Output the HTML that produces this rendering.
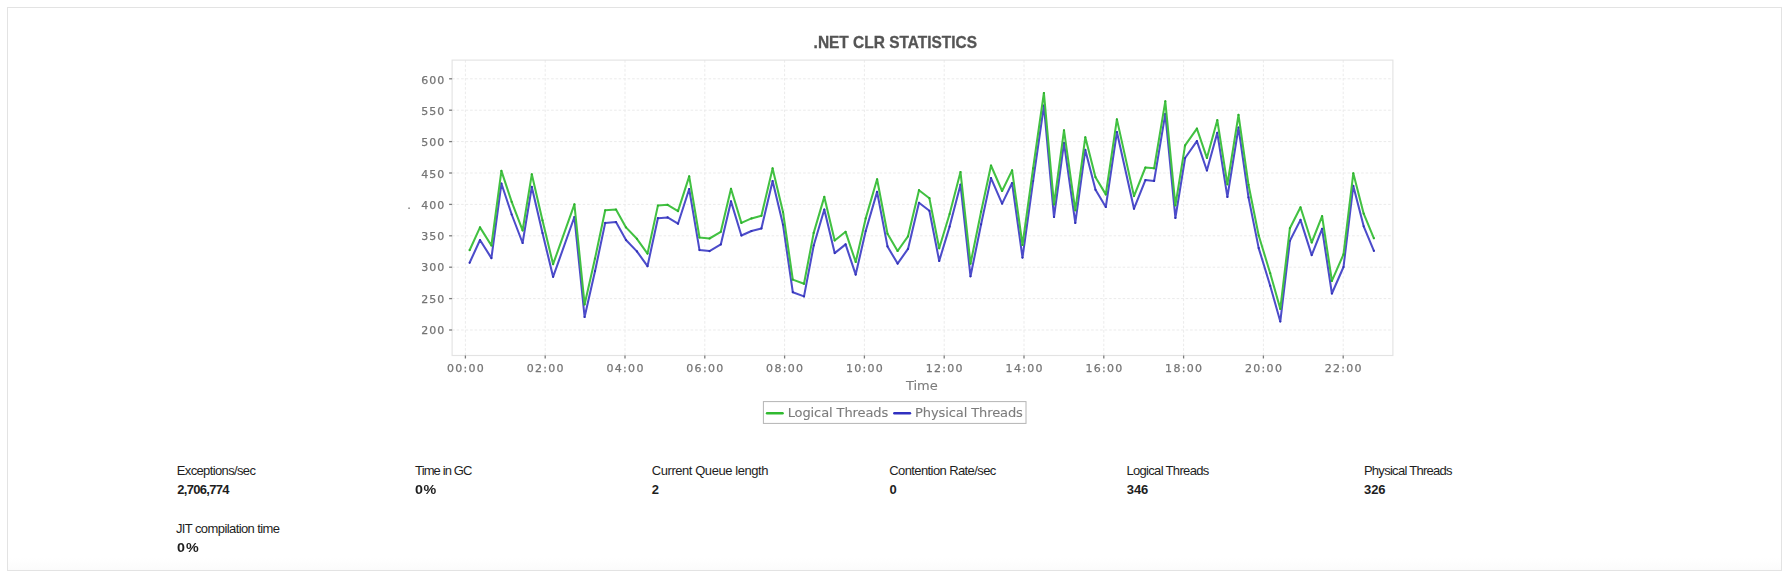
<!DOCTYPE html>
<html lang="en"><head><meta charset="utf-8"><title>.NET CLR Statistics</title>
<style>
html,body{margin:0;padding:0;background:#fff;}
body{width:1789px;height:576px;position:relative;overflow:hidden;font-family:"Liberation Sans","DejaVu Sans",sans-serif;}
#box{position:absolute;left:7px;top:7px;width:1773px;height:562px;border:1px solid #e3e3e3;background:linear-gradient(to bottom,#fff 0,#fff 550px,#fbfbfb 562px);}
#chart{position:absolute;left:0;top:0;filter:blur(0.45px);}
#chart text{font-family:"DejaVu Sans","Liberation Sans",sans-serif;fill:#757575;stroke:#757575;stroke-width:0.25px;}
#chart .tl{font-size:11px;letter-spacing:1px;}
#chart .xl{font-size:11px;letter-spacing:1.3px;}
#chart .al{font-size:13px;letter-spacing:0px;fill:#7c7c7c;stroke:#7c7c7c;stroke-width:0.12px;}
#chart .ll{font-size:13px;letter-spacing:-0.1px;fill:#7c7c7c;stroke:#7c7c7c;stroke-width:0.12px;}
#chart .title{font-family:"Liberation Sans",sans-serif;font-weight:bold;font-size:16px;fill:#555;stroke:#555;stroke-width:0.3px;}
.grid line{stroke:#ebebeb;stroke-width:1;stroke-dasharray:2.6 1.9;}
.pb{fill:none;stroke:#e3e3e3;stroke-width:1.15;}
.ticks line{stroke:#7c7c7c;stroke-width:1.3;}
.s{fill:none;stroke-width:2.05;stroke-linejoin:round;stroke-linecap:butt;}
.g{stroke:#42c142;}
.ng circle{fill:#2cb02c;}
.b{stroke:#4c4cca;}
.nb circle{fill:#3030b6;}
.lg{fill:#fff;stroke:#b4b4b4;stroke-width:1;}
.sw{stroke-width:2.4;stroke-linecap:round;}
.sg{stroke:#30ba30;}
.sb{stroke:#3030c0;}
.st{position:absolute;white-space:nowrap;color:#1e1e1e;}
.k{font-size:13px;line-height:18px;height:18px;}
.v{font-size:13px;line-height:18px;font-weight:bold;}
</style></head><body>
<div id="box"></div>
<svg id="chart" width="1789" height="576" viewBox="0 0 1789 576">
<g class="grid"><line x1="465.4" y1="60.1" x2="465.4" y2="355.5"/><line x1="545.2" y1="60.1" x2="545.2" y2="355.5"/><line x1="625.0" y1="60.1" x2="625.0" y2="355.5"/><line x1="704.8" y1="60.1" x2="704.8" y2="355.5"/><line x1="784.6" y1="60.1" x2="784.6" y2="355.5"/><line x1="864.4" y1="60.1" x2="864.4" y2="355.5"/><line x1="944.2" y1="60.1" x2="944.2" y2="355.5"/><line x1="1024.0" y1="60.1" x2="1024.0" y2="355.5"/><line x1="1103.8" y1="60.1" x2="1103.8" y2="355.5"/><line x1="1183.6" y1="60.1" x2="1183.6" y2="355.5"/><line x1="1263.4" y1="60.1" x2="1263.4" y2="355.5"/><line x1="1343.2" y1="60.1" x2="1343.2" y2="355.5"/><line x1="452.1" y1="330.0" x2="1392.9" y2="330.0"/><line x1="452.1" y1="298.6" x2="1392.9" y2="298.6"/><line x1="452.1" y1="267.2" x2="1392.9" y2="267.2"/><line x1="452.1" y1="235.8" x2="1392.9" y2="235.8"/><line x1="452.1" y1="204.4" x2="1392.9" y2="204.4"/><line x1="452.1" y1="173.0" x2="1392.9" y2="173.0"/><line x1="452.1" y1="141.6" x2="1392.9" y2="141.6"/><line x1="452.1" y1="110.2" x2="1392.9" y2="110.2"/><line x1="452.1" y1="78.8" x2="1392.9" y2="78.8"/></g>
<rect class="pb" x="452.1" y="60.1" width="940.8" height="295.4"/>
<g class="ticks"><line x1="465.4" y1="355.5" x2="465.4" y2="358.5"/><line x1="545.2" y1="355.5" x2="545.2" y2="358.5"/><line x1="625.0" y1="355.5" x2="625.0" y2="358.5"/><line x1="704.8" y1="355.5" x2="704.8" y2="358.5"/><line x1="784.6" y1="355.5" x2="784.6" y2="358.5"/><line x1="864.4" y1="355.5" x2="864.4" y2="358.5"/><line x1="944.2" y1="355.5" x2="944.2" y2="358.5"/><line x1="1024.0" y1="355.5" x2="1024.0" y2="358.5"/><line x1="1103.8" y1="355.5" x2="1103.8" y2="358.5"/><line x1="1183.6" y1="355.5" x2="1183.6" y2="358.5"/><line x1="1263.4" y1="355.5" x2="1263.4" y2="358.5"/><line x1="1343.2" y1="355.5" x2="1343.2" y2="358.5"/><line x1="449.1" y1="330.0" x2="452.1" y2="330.0"/><line x1="449.1" y1="298.6" x2="452.1" y2="298.6"/><line x1="449.1" y1="267.2" x2="452.1" y2="267.2"/><line x1="449.1" y1="235.8" x2="452.1" y2="235.8"/><line x1="449.1" y1="204.4" x2="452.1" y2="204.4"/><line x1="449.1" y1="173.0" x2="452.1" y2="173.0"/><line x1="449.1" y1="141.6" x2="452.1" y2="141.6"/><line x1="449.1" y1="110.2" x2="452.1" y2="110.2"/><line x1="449.1" y1="78.8" x2="452.1" y2="78.8"/></g>
<text class="xl" x="466.0" y="372.2" text-anchor="middle">00:00</text><text class="xl" x="545.8" y="372.2" text-anchor="middle">02:00</text><text class="xl" x="625.6" y="372.2" text-anchor="middle">04:00</text><text class="xl" x="705.4" y="372.2" text-anchor="middle">06:00</text><text class="xl" x="785.2" y="372.2" text-anchor="middle">08:00</text><text class="xl" x="865.0" y="372.2" text-anchor="middle">10:00</text><text class="xl" x="944.8" y="372.2" text-anchor="middle">12:00</text><text class="xl" x="1024.7" y="372.2" text-anchor="middle">14:00</text><text class="xl" x="1104.5" y="372.2" text-anchor="middle">16:00</text><text class="xl" x="1184.2" y="372.2" text-anchor="middle">18:00</text><text class="xl" x="1264.1" y="372.2" text-anchor="middle">20:00</text><text class="xl" x="1343.8" y="372.2" text-anchor="middle">22:00</text><text class="tl" x="445.3" y="333.9" text-anchor="end">200</text><text class="tl" x="445.3" y="302.6" text-anchor="end">250</text><text class="tl" x="445.3" y="271.3" text-anchor="end">300</text><text class="tl" x="445.3" y="240.1" text-anchor="end">350</text><text class="tl" x="445.3" y="208.8" text-anchor="end">400</text><text class="tl" x="445.3" y="177.5" text-anchor="end">450</text><text class="tl" x="445.3" y="146.2" text-anchor="end">500</text><text class="tl" x="445.3" y="115.0" text-anchor="end">550</text><text class="tl" x="445.3" y="83.7" text-anchor="end">600</text>
<text class="al" x="921.8" y="390.3" text-anchor="middle">Time</text>
<text class="al" x="406.9" y="209.3">.</text>
<polyline class="s b" points="469.6,262.8 480.0,240.0 491.4,258.1 501.4,183.5 511.7,214.5 522.6,243.0 531.8,186.9 542.5,233.0 553.1,276.8 574.4,217.0 584.6,317.0 595.0,271.2 605.2,222.9 616.0,222.1 626.0,240.0 636.9,251.4 647.5,266.2 657.9,218.2 667.6,217.4 678.0,223.7 689.2,189.0 699.5,250.1 709.5,251.1 720.8,244.4 731.0,201.4 741.4,235.5 751.5,231.0 761.4,228.4 772.6,181.0 783.0,224.6 792.8,292.2 804.0,296.4 813.7,245.5 824.3,209.5 834.7,253.1 845.6,244.4 855.7,274.6 865.7,231.0 877.1,191.9 887.5,246.4 897.6,263.6 908.0,248.9 919.0,202.8 929.4,210.8 939.2,260.9 949.6,226.6 960.5,184.7 970.5,276.3 981.1,224.3 991.0,178.1 1002.1,203.6 1012.1,183.0 1022.5,257.6 1033.1,181.0 1043.9,105.6 1054.0,217.0 1064.0,142.9 1075.3,222.9 1085.3,149.9 1095.5,189.8 1105.8,207.0 1116.9,132.0 1134.0,208.7 1145.4,180.1 1154.1,180.9 1165.3,113.9 1175.4,217.9 1185.1,158.0 1196.9,141.2 1206.9,170.5 1217.3,132.8 1227.4,196.9 1238.5,127.5 1248.5,197.4 1258.7,248.1 1270.2,285.8 1280.3,321.5 1289.9,240.8 1300.5,219.9 1311.7,255.1 1322.1,228.8 1331.9,293.5 1343.5,267.0 1353.3,185.9 1363.7,226.3 1373.9,250.9"/>
<g class="nb"><circle cx="469.6" cy="262.8" r="1.1"/><circle cx="480.0" cy="240.0" r="1.1"/><circle cx="491.4" cy="258.1" r="1.1"/><circle cx="501.4" cy="183.5" r="1.1"/><circle cx="511.7" cy="214.5" r="1.1"/><circle cx="522.6" cy="243.0" r="1.1"/><circle cx="531.8" cy="186.9" r="1.1"/><circle cx="542.5" cy="233.0" r="1.1"/><circle cx="553.1" cy="276.8" r="1.1"/><circle cx="574.4" cy="217.0" r="1.1"/><circle cx="584.6" cy="317.0" r="1.1"/><circle cx="595.0" cy="271.2" r="1.1"/><circle cx="605.2" cy="222.9" r="1.1"/><circle cx="616.0" cy="222.1" r="1.1"/><circle cx="626.0" cy="240.0" r="1.1"/><circle cx="636.9" cy="251.4" r="1.1"/><circle cx="647.5" cy="266.2" r="1.1"/><circle cx="657.9" cy="218.2" r="1.1"/><circle cx="667.6" cy="217.4" r="1.1"/><circle cx="678.0" cy="223.7" r="1.1"/><circle cx="689.2" cy="189.0" r="1.1"/><circle cx="699.5" cy="250.1" r="1.1"/><circle cx="709.5" cy="251.1" r="1.1"/><circle cx="720.8" cy="244.4" r="1.1"/><circle cx="731.0" cy="201.4" r="1.1"/><circle cx="741.4" cy="235.5" r="1.1"/><circle cx="751.5" cy="231.0" r="1.1"/><circle cx="761.4" cy="228.4" r="1.1"/><circle cx="772.6" cy="181.0" r="1.1"/><circle cx="783.0" cy="224.6" r="1.1"/><circle cx="792.8" cy="292.2" r="1.1"/><circle cx="804.0" cy="296.4" r="1.1"/><circle cx="813.7" cy="245.5" r="1.1"/><circle cx="824.3" cy="209.5" r="1.1"/><circle cx="834.7" cy="253.1" r="1.1"/><circle cx="845.6" cy="244.4" r="1.1"/><circle cx="855.7" cy="274.6" r="1.1"/><circle cx="865.7" cy="231.0" r="1.1"/><circle cx="877.1" cy="191.9" r="1.1"/><circle cx="887.5" cy="246.4" r="1.1"/><circle cx="897.6" cy="263.6" r="1.1"/><circle cx="908.0" cy="248.9" r="1.1"/><circle cx="919.0" cy="202.8" r="1.1"/><circle cx="929.4" cy="210.8" r="1.1"/><circle cx="939.2" cy="260.9" r="1.1"/><circle cx="949.6" cy="226.6" r="1.1"/><circle cx="960.5" cy="184.7" r="1.1"/><circle cx="970.5" cy="276.3" r="1.1"/><circle cx="981.1" cy="224.3" r="1.1"/><circle cx="991.0" cy="178.1" r="1.1"/><circle cx="1002.1" cy="203.6" r="1.1"/><circle cx="1012.1" cy="183.0" r="1.1"/><circle cx="1022.5" cy="257.6" r="1.1"/><circle cx="1033.1" cy="181.0" r="1.1"/><circle cx="1043.9" cy="105.6" r="1.1"/><circle cx="1054.0" cy="217.0" r="1.1"/><circle cx="1064.0" cy="142.9" r="1.1"/><circle cx="1075.3" cy="222.9" r="1.1"/><circle cx="1085.3" cy="149.9" r="1.1"/><circle cx="1095.5" cy="189.8" r="1.1"/><circle cx="1105.8" cy="207.0" r="1.1"/><circle cx="1116.9" cy="132.0" r="1.1"/><circle cx="1134.0" cy="208.7" r="1.1"/><circle cx="1145.4" cy="180.1" r="1.1"/><circle cx="1154.1" cy="180.9" r="1.1"/><circle cx="1165.3" cy="113.9" r="1.1"/><circle cx="1175.4" cy="217.9" r="1.1"/><circle cx="1185.1" cy="158.0" r="1.1"/><circle cx="1196.9" cy="141.2" r="1.1"/><circle cx="1206.9" cy="170.5" r="1.1"/><circle cx="1217.3" cy="132.8" r="1.1"/><circle cx="1227.4" cy="196.9" r="1.1"/><circle cx="1238.5" cy="127.5" r="1.1"/><circle cx="1248.5" cy="197.4" r="1.1"/><circle cx="1258.7" cy="248.1" r="1.1"/><circle cx="1270.2" cy="285.8" r="1.1"/><circle cx="1280.3" cy="321.5" r="1.1"/><circle cx="1289.9" cy="240.8" r="1.1"/><circle cx="1300.5" cy="219.9" r="1.1"/><circle cx="1311.7" cy="255.1" r="1.1"/><circle cx="1322.1" cy="228.8" r="1.1"/><circle cx="1331.9" cy="293.5" r="1.1"/><circle cx="1343.5" cy="267.0" r="1.1"/><circle cx="1353.3" cy="185.9" r="1.1"/><circle cx="1363.7" cy="226.3" r="1.1"/><circle cx="1373.9" cy="250.9" r="1.1"/></g>
<polyline class="s g" points="469.6,250.2 480.0,227.4 491.4,245.5 501.4,170.9 511.7,201.9 522.6,230.4 531.8,174.3 542.5,220.4 553.1,264.2 574.4,204.4 584.6,304.4 595.0,258.6 605.2,210.3 616.0,209.5 626.0,227.4 636.9,238.8 647.5,253.6 657.9,205.6 667.6,204.8 678.0,211.1 689.2,176.4 699.5,237.5 709.5,238.5 720.8,231.8 731.0,188.8 741.4,222.9 751.5,218.4 761.4,215.8 772.6,168.4 783.0,212.0 792.8,279.6 804.0,283.8 813.7,232.9 824.3,196.9 834.7,240.5 845.6,231.8 855.7,262.0 865.7,218.4 877.1,179.3 887.5,233.8 897.6,251.0 908.0,236.3 919.0,190.2 929.4,198.2 939.2,248.3 949.6,214.0 960.5,172.1 970.5,263.7 981.1,211.7 991.0,165.5 1002.1,191.0 1012.1,170.4 1022.5,245.0 1033.1,168.4 1043.9,93.0 1054.0,204.4 1064.0,130.3 1075.3,210.3 1085.3,137.3 1095.5,177.2 1105.8,194.4 1116.9,119.4 1134.0,196.1 1145.4,167.5 1154.1,168.3 1165.3,101.3 1175.4,205.3 1185.1,145.4 1196.9,128.6 1206.9,157.9 1217.3,120.2 1227.4,184.3 1238.5,114.9 1248.5,184.8 1258.7,235.5 1270.2,273.2 1280.3,308.9 1289.9,228.2 1300.5,207.3 1311.7,242.5 1322.1,216.2 1331.9,280.9 1343.5,254.4 1353.3,173.3 1363.7,213.7 1373.9,238.3"/>
<g class="ng"><circle cx="469.6" cy="250.2" r="1.1"/><circle cx="480.0" cy="227.4" r="1.1"/><circle cx="491.4" cy="245.5" r="1.1"/><circle cx="501.4" cy="170.9" r="1.1"/><circle cx="511.7" cy="201.9" r="1.1"/><circle cx="522.6" cy="230.4" r="1.1"/><circle cx="531.8" cy="174.3" r="1.1"/><circle cx="542.5" cy="220.4" r="1.1"/><circle cx="553.1" cy="264.2" r="1.1"/><circle cx="574.4" cy="204.4" r="1.1"/><circle cx="584.6" cy="304.4" r="1.1"/><circle cx="595.0" cy="258.6" r="1.1"/><circle cx="605.2" cy="210.3" r="1.1"/><circle cx="616.0" cy="209.5" r="1.1"/><circle cx="626.0" cy="227.4" r="1.1"/><circle cx="636.9" cy="238.8" r="1.1"/><circle cx="647.5" cy="253.6" r="1.1"/><circle cx="657.9" cy="205.6" r="1.1"/><circle cx="667.6" cy="204.8" r="1.1"/><circle cx="678.0" cy="211.1" r="1.1"/><circle cx="689.2" cy="176.4" r="1.1"/><circle cx="699.5" cy="237.5" r="1.1"/><circle cx="709.5" cy="238.5" r="1.1"/><circle cx="720.8" cy="231.8" r="1.1"/><circle cx="731.0" cy="188.8" r="1.1"/><circle cx="741.4" cy="222.9" r="1.1"/><circle cx="751.5" cy="218.4" r="1.1"/><circle cx="761.4" cy="215.8" r="1.1"/><circle cx="772.6" cy="168.4" r="1.1"/><circle cx="783.0" cy="212.0" r="1.1"/><circle cx="792.8" cy="279.6" r="1.1"/><circle cx="804.0" cy="283.8" r="1.1"/><circle cx="813.7" cy="232.9" r="1.1"/><circle cx="824.3" cy="196.9" r="1.1"/><circle cx="834.7" cy="240.5" r="1.1"/><circle cx="845.6" cy="231.8" r="1.1"/><circle cx="855.7" cy="262.0" r="1.1"/><circle cx="865.7" cy="218.4" r="1.1"/><circle cx="877.1" cy="179.3" r="1.1"/><circle cx="887.5" cy="233.8" r="1.1"/><circle cx="897.6" cy="251.0" r="1.1"/><circle cx="908.0" cy="236.3" r="1.1"/><circle cx="919.0" cy="190.2" r="1.1"/><circle cx="929.4" cy="198.2" r="1.1"/><circle cx="939.2" cy="248.3" r="1.1"/><circle cx="949.6" cy="214.0" r="1.1"/><circle cx="960.5" cy="172.1" r="1.1"/><circle cx="970.5" cy="263.7" r="1.1"/><circle cx="981.1" cy="211.7" r="1.1"/><circle cx="991.0" cy="165.5" r="1.1"/><circle cx="1002.1" cy="191.0" r="1.1"/><circle cx="1012.1" cy="170.4" r="1.1"/><circle cx="1022.5" cy="245.0" r="1.1"/><circle cx="1033.1" cy="168.4" r="1.1"/><circle cx="1043.9" cy="93.0" r="1.1"/><circle cx="1054.0" cy="204.4" r="1.1"/><circle cx="1064.0" cy="130.3" r="1.1"/><circle cx="1075.3" cy="210.3" r="1.1"/><circle cx="1085.3" cy="137.3" r="1.1"/><circle cx="1095.5" cy="177.2" r="1.1"/><circle cx="1105.8" cy="194.4" r="1.1"/><circle cx="1116.9" cy="119.4" r="1.1"/><circle cx="1134.0" cy="196.1" r="1.1"/><circle cx="1145.4" cy="167.5" r="1.1"/><circle cx="1154.1" cy="168.3" r="1.1"/><circle cx="1165.3" cy="101.3" r="1.1"/><circle cx="1175.4" cy="205.3" r="1.1"/><circle cx="1185.1" cy="145.4" r="1.1"/><circle cx="1196.9" cy="128.6" r="1.1"/><circle cx="1206.9" cy="157.9" r="1.1"/><circle cx="1217.3" cy="120.2" r="1.1"/><circle cx="1227.4" cy="184.3" r="1.1"/><circle cx="1238.5" cy="114.9" r="1.1"/><circle cx="1248.5" cy="184.8" r="1.1"/><circle cx="1258.7" cy="235.5" r="1.1"/><circle cx="1270.2" cy="273.2" r="1.1"/><circle cx="1280.3" cy="308.9" r="1.1"/><circle cx="1289.9" cy="228.2" r="1.1"/><circle cx="1300.5" cy="207.3" r="1.1"/><circle cx="1311.7" cy="242.5" r="1.1"/><circle cx="1322.1" cy="216.2" r="1.1"/><circle cx="1331.9" cy="280.9" r="1.1"/><circle cx="1343.5" cy="254.4" r="1.1"/><circle cx="1353.3" cy="173.3" r="1.1"/><circle cx="1363.7" cy="213.7" r="1.1"/><circle cx="1373.9" cy="238.3" r="1.1"/></g>
<rect class="lg" x="763.4" y="401.6" width="262.6" height="21.8"/>
<line class="sw sg" x1="767" y1="413.3" x2="782.6" y2="413.3"/>
<text class="ll" x="787.7" y="417.3">Logical Threads</text>
<line class="sw sb" x1="894.3" y1="413.3" x2="910" y2="413.3"/>
<text class="ll" x="915.1" y="417.3">Physical Threads</text>
<text class="title" transform="translate(895.3 48.2) scale(0.967 1)" x="0" y="0" text-anchor="middle">.NET CLR STATISTICS</text>
</svg>
<div class="st k" style="left:176.73px;top:462px;letter-spacing:-0.63px">Exceptions/sec</div>
<div class="st v" style="left:177.22px;top:481px;letter-spacing:-0.69px">2,706,774</div>
<div class="st k" style="left:415.09px;top:462px;letter-spacing:-0.88px">Time in GC</div>
<div class="st v" style="left:414.65px;top:481px;letter-spacing:0.48px;transform:scaleX(1.1);transform-origin:0 0">0%</div>
<div class="st k" style="left:651.76px;top:462px;letter-spacing:-0.44px">Current Queue length</div>
<div class="st v" style="left:651.80px;top:481px;letter-spacing:-0.50px">2</div>
<div class="st k" style="left:889.29px;top:462px;letter-spacing:-0.60px">Contention Rate/sec</div>
<div class="st v" style="left:889.50px;top:481px;letter-spacing:-0.50px">0</div>
<div class="st k" style="left:1126.40px;top:462px;letter-spacing:-0.67px">Logical Threads</div>
<div class="st v" style="left:1126.86px;top:481px;letter-spacing:-0.12px">346</div>
<div class="st k" style="left:1363.91px;top:462px;letter-spacing:-0.72px">Physical Threads</div>
<div class="st v" style="left:1364.12px;top:481px;letter-spacing:-0.14px">326</div>
<div class="st k" style="left:175.90px;top:520px;letter-spacing:-0.59px">JIT compilation time</div>
<div class="st v" style="left:176.89px;top:539px;letter-spacing:1.03px;transform:scaleX(1.1);transform-origin:0 0">0%</div>
</body></html>
